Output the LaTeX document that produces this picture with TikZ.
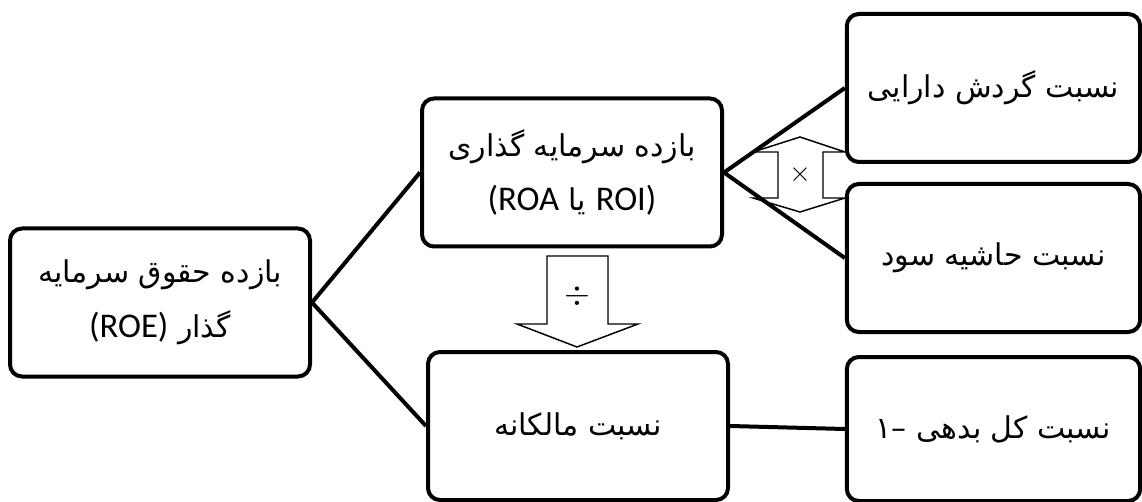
\documentclass[tikz,border=0pt]{standalone}
\usepackage{fontspec}
\TeXXeTstate=1
\newfontfamily\arabicfont[Script=Arabic]{DejaVu Sans}
\newfontfamily\latinfont{Carlito}
\usetikzlibrary{calc}
\tikzset{
	ratio/.style={draw, line width=3pt, rounded corners=9pt, minimum width=#1, minimum height=111pt, align=center, inner sep=0pt, font=\arabicfont\fontsize{22.5}{41}\selectfont},
	link/.style={line width=3pt},
	sign/.style={draw, line width=1.1pt, fill=white, line join=miter}
}
\newcommand\lat[1]{\hbox{\latinfont\fontsize{26}{41}\selectfont #1}}

\begin{document}
\begin{tikzpicture}[x=0.75pt, y=-0.75pt]
		%%%%% START %%%%%
		\useasboundingbox (0,0) rectangle (1142,502);
		
		\node[ratio=225pt] (roe) at (160,302.5) {\beginR بازده حقوق سرمایه\endR\\\beginR گذار \beginL\lat{(ROE)}\endL\endR};
		\node[ratio=225pt] (roi) at (572,172.5) {\beginR بازده سرمایه گذاری\endR\\\lat{(ROA}\ \hbox{یا}\ \lat{ROI)}};
		\node[ratio=225pt] (own) at (578,426) {\beginR نسبت مالکانه\endR};
		
		\node[ratio=220pt] (turn) at (993.5,88) {\beginR نسبت گردش دارایی\endR};
		\node[ratio=220pt] (marg) at (993.5,258) {\beginR نسبت حاشیه سود\endR};
		\node[ratio=220pt, minimum height=108pt] (debt) at (993.5,429) {\beginR نسبت کل بدهی \beginL\hbox{۱}\hbox{–}\endL\endR};
		
		% multiply and divide signs
		\draw[sign] (800,137) -- (845,152) -- (823,152) -- (823,198) -- (845,198) -- (800,212) -- (753,198) -- (778,198) -- (778,152) -- (753,152) -- cycle;
		\node (times) at (800,175) {\fontsize{22}{22}\selectfont$\times$};
		\draw[sign] (547,256) -- (608,256) -- (608,324) -- (638,324) -- (577,347) -- (517,324) -- (547,324) -- cycle;
		\node (divide) at (577,296) {\fontsize{25}{25}\selectfont$\div$};
		
		\draw[link] (roe.east) -- (roi.west);
		\draw[link] (roe.east) -- (own.west);
		\draw[link] (roi.east) -- (turn.west);
		\draw[link] (roi.east) -- (marg.west);
		\draw[link] (own.east) -- (debt.west);
		%%%%% END %%%%%
	\end{tikzpicture}
\end{document}
